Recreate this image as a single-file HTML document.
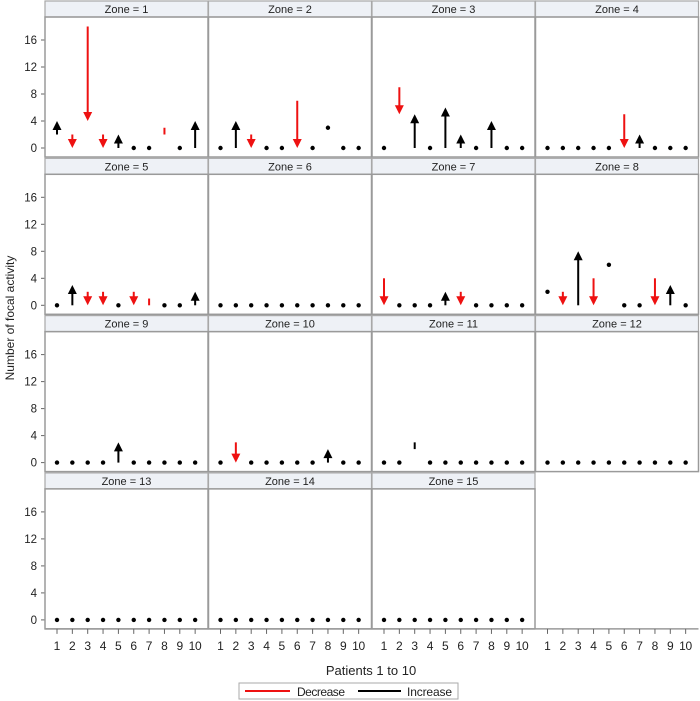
<!DOCTYPE html>
<html><head><meta charset="utf-8"><style>
body{margin:0;background:#fff;}
svg{display:block;font-family:"Liberation Sans",Arial,sans-serif;}
</style></head><body>
<svg id="c" width="700" height="701" viewBox="0 0 700 701" xmlns="http://www.w3.org/2000/svg"></svg>
<script>
const zones = ["Zone = 1","Zone = 2","Zone = 3","Zone = 4","Zone = 5","Zone = 6","Zone = 7","Zone = 8","Zone = 9","Zone = 10","Zone = 11","Zone = 12","Zone = 13","Zone = 14","Zone = 15"];
const patients = [1,2,3,4,5,6,7,8,9,10];
const yTicks = [0,4,8,12,16];
// start values per zone (patients 1..10)
const startVals = [
 [2,2,18,2,0,0,0,3,0,0],
 [0,0,2,0,0,7,0,3,0,0],
 [0,9,0,0,0,0,0,0,0,0],
 [0,0,0,0,0,5,0,0,0,0],
 [0,0,2,2,0,2,1,0,0,0],
 [0,0,0,0,0,0,0,0,0,0],
 [4,0,0,0,0,2,0,0,0,0],
 [2,2,0,4,6,0,0,4,0,0],
 [0,0,0,0,0,0,0,0,0,0],
 [0,3,0,0,0,0,0,0,0,0],
 [0,0,2,0,0,0,0,0,0,0],
 [0,0,0,0,0,0,0,0,0,0],
 [0,0,0,0,0,0,0,0,0,0],
 [0,0,0,0,0,0,0,0,0,0],
 [0,0,0,0,0,0,0,0,0,0]
];
// end values per zone
const endVals = [
 [4,0,4,0,2,0,0,2,0,4],
 [0,4,0,0,0,0,0,3,0,0],
 [0,5,5,0,6,2,0,4,0,0],
 [0,0,0,0,0,0,2,0,0,0],
 [0,3,0,0,0,0,0,0,0,2],
 [0,0,0,0,0,0,0,0,0,0],
 [0,0,0,0,2,0,0,0,0,0],
 [2,0,8,0,6,0,0,0,3,0],
 [0,0,0,0,3,0,0,0,0,0],
 [0,0,0,0,0,0,0,2,0,0],
 [0,0,3,0,0,0,0,0,0,0],
 [0,0,0,0,0,0,0,0,0,0],
 [0,0,0,0,0,0,0,0,0,0],
 [0,0,0,0,0,0,0,0,0,0],
 [0,0,0,0,0,0,0,0,0,0]
];
const NS="http://www.w3.org/2000/svg";
const svg=document.getElementById('c');
function mk(t,a,p){const e=document.createElementNS(NS,t);for(const k in a)e.setAttribute(k,a[k]);(p||svg).appendChild(e);return e;}
const colX=[45,208.5,372,535.5], colW=163;
const rowTop=r=>1+157.3*r;
function xS(c,p){return colX[c]+12+(p-1)*15.35;}
function yS(r,v){return rowTop(r)+147-v*6.75;}

for(let r=0;r<4;r++){
  for(const t of yTicks){
    const y=yS(r,t);
    const tk=mk('line',{x1:41,x2:45,y1:y,y2:y,stroke:'#666','stroke-width':1});
    
    
    const tl=mk('text',{x:37,y:y+4,'text-anchor':'end','font-size':11.5,fill:'#222'});
    tl.textContent=t;
    
    
  }
}
for(let z=0;z<16;z++){
  const r=Math.floor(z/4), c=z%4, top=rowTop(r);
  const g=mk('g',{});
  
  
  if(z<15){
    const st=mk('rect',{x:colX[c],y:top,width:colW,height:16,fill:'#eef1f6',stroke:'#a8a8a8','stroke-width':1.2},g);
    
    
    const stt=mk('text',{x:colX[c]+colW/2,y:top+12,'text-anchor':'middle','font-size':11,fill:'#222'},g);
    stt.textContent=zones[z];
    
    
    const pb=mk('rect',{x:colX[c],y:top+16,width:colW,height:140,fill:'none',stroke:'#9a9a9a','stroke-width':1.5},g);
    
    
    for(let i=0;i<patients.length;i++){
      const s=startVals[z][i], e=endVals[z][i], x=xS(c,patients[i]);
      if(s===e){
        const d=mk('circle',{cx:x,cy:yS(r,s),r:2.2,fill:'#000'},g);
        
        
        continue;
      }
      const col=e<s?'#ee1111':'#000';
      const y1=yS(r,s), y2=yS(r,e), len=Math.abs(y2-y1), dir=e<s?1:-1;
      const head=len>=9;
      const yl=head?y2-dir*7:y2;
      const ln=mk('line',{x1:x,x2:x,y1:y1,y2:yl,stroke:col,'stroke-width':2},g);
      
      
      if(head){
        const hp=mk('polygon',{points:`${x-4.5},${y2-dir*9} ${x+4.5},${y2-dir*9} ${x},${y2}`,fill:col},g);
        
        
      }
    }
  }
  if(r===3){
    const ax=mk('line',{x1:colX[c],x2:colX[c]+colW,y1:top+156,y2:top+156,stroke:'#9a9a9a','stroke-width':1.5},g);
    
    
    for(const p of patients){
      const x=xS(c,p);
      const tk=mk('line',{x1:x,x2:x,y1:top+156,y2:top+161,stroke:'#666','stroke-width':1},g);
      
      
      const tl=mk('text',{x:x,y:top+177,'text-anchor':'middle','font-size':12,fill:'#222'},g);
      tl.textContent=p;
      if(p===10) tl.setAttribute('textLength','13');
      
      
    }
  }
}
const yt=mk('text',{x:0,y:0,transform:'translate(14,318) rotate(-90)','text-anchor':'middle','font-size':12,fill:'#222'});
yt.textContent='Number of focal activity';


const xt=mk('text',{x:371,y:675,'text-anchor':'middle','font-size':13,fill:'#222'});
xt.textContent='Patients 1 to 10';


const lg=mk('g',{});


mk('rect',{x:239,y:683,width:219,height:16,fill:'#fff',stroke:'#aaa','stroke-width':1},lg);
const l1=mk('line',{x1:245,x2:290,y1:691,y2:691,stroke:'#ee1111','stroke-width':2},lg);


const t1=mk('text',{x:297,y:696,'font-size':12,fill:'#222',textLength:48},lg);t1.textContent='Decrease';


const l2=mk('line',{x1:358,x2:401,y1:691,y2:691,stroke:'#000','stroke-width':2},lg);


const t2=mk('text',{x:407,y:696,'font-size':12,fill:'#222',textLength:45},lg);t2.textContent='Increase';


</script>
</body></html>
